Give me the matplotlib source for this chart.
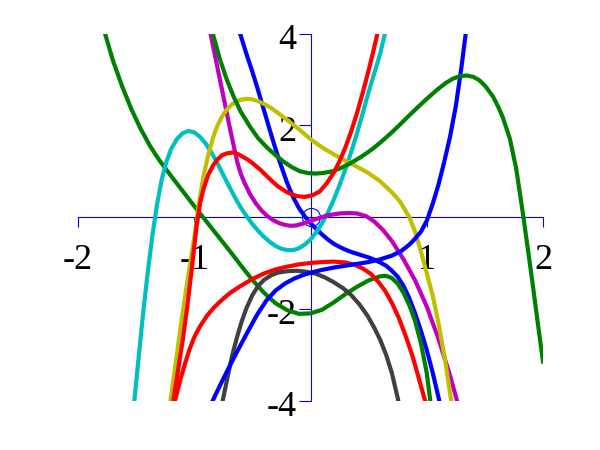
import matplotlib
matplotlib.use("Agg")
import matplotlib.pyplot as plt
from matplotlib.transforms import ScaledTranslation

# curves, (x, y) pairs
blue_a_x = [-0.605, -0.55, -0.5, -0.45, -0.4, -0.35, -0.3, -0.25, -0.2, -0.15, -0.1, -0.05, 0.0, 0.05, 0.1, 0.15, 0.2, 0.25, 0.3, 0.35, 0.4, 0.45, 0.5, 0.55, 0.6, 0.65, 0.7, 0.75, 0.8, 0.85, 0.9, 0.95, 1.0, 1.05, 1.1, 1.107]
blue_a_y = [4.0, 3.55, 3.17, 2.76, 2.33, 1.9, 1.48, 1.1, 0.74, 0.44, 0.2, 0.02, -0.13, -0.26, -0.38, -0.49, -0.58, -0.65, -0.71, -0.76, -0.8, -0.84, -0.88, -0.93, -0.99, -1.06, -1.17, -1.3, -1.5, -1.77, -2.1, -2.48, -2.9, -3.38, -3.92, -4.0]

green_a_x = [-1.767, -1.7, -1.62, -1.54, -1.46, -1.38, -1.3, -1.2, -1.1, -1.0, -0.9, -0.8, -0.7, -0.6, -0.5, -0.4, -0.3, -0.2, -0.1, 0.0, 0.1, 0.2, 0.3, 0.4, 0.5, 0.6, 0.65, 0.7, 0.75, 0.8, 0.85, 0.9, 0.95, 1.0, 1.03]
green_a_y = [4.0, 3.42, 2.85, 2.35, 1.92, 1.55, 1.24, 0.9, 0.57, 0.24, -0.08, -0.4, -0.72, -1.05, -1.37, -1.65, -1.88, -2.03, -2.11, -2.1, -2.02, -1.86, -1.68, -1.52, -1.38, -1.29, -1.28, -1.33, -1.45, -1.65, -1.92, -2.27, -2.75, -3.4, -4.0]

red_b_x = [-1.165, -1.12, -1.08, -1.04, -1.0, -0.95, -0.89, -0.83, -0.76, -0.69, -0.6, -0.5, -0.4, -0.3, -0.2, -0.1, 0.0, 0.1, 0.2, 0.3, 0.38, 0.45, 0.52, 0.58, 0.64, 0.7, 0.76, 0.82, 0.88, 0.93, 0.985]
red_b_y = [-4.0, -3.55, -3.2, -2.88, -2.62, -2.38, -2.15, -1.97, -1.8, -1.65, -1.5, -1.35, -1.23, -1.14, -1.08, -1.03, -1.0, -0.98, -0.97, -0.99, -1.04, -1.12, -1.24, -1.4, -1.6, -1.87, -2.2, -2.6, -3.05, -3.5, -4.0]

cyan_x = [-1.515, -1.48, -1.44, -1.4, -1.36, -1.32, -1.28, -1.24, -1.2, -1.15, -1.1, -1.05, -1.0, -0.95, -0.9, -0.85, -0.8, -0.75, -0.7, -0.65, -0.6, -0.55, -0.5, -0.45, -0.4, -0.35, -0.3, -0.25, -0.2, -0.15, -0.1, -0.05, 0.0, 0.05, 0.1, 0.15, 0.2, 0.25, 0.3, 0.35, 0.4, 0.45, 0.5, 0.55, 0.6, 0.64]
cyan_y = [-4.0, -3.1, -2.1, -1.2, -0.4, 0.28, 0.82, 1.2, 1.48, 1.7, 1.83, 1.88, 1.85, 1.75, 1.6, 1.4, 1.17, 0.92, 0.67, 0.43, 0.21, 0.02, -0.15, -0.3, -0.43, -0.54, -0.63, -0.69, -0.72, -0.72, -0.68, -0.6, -0.49, -0.33, -0.13, 0.1, 0.38, 0.7, 1.04, 1.42, 1.83, 2.27, 2.73, 3.15, 3.57, 4.0]

magenta_x = [-0.86, -0.81, -0.75, -0.69, -0.63, -0.6, -0.57, -0.52, -0.47, -0.42, -0.37, -0.32, -0.27, -0.22, -0.17, -0.12, -0.05, 0.05, 0.15, 0.25, 0.33, 0.4, 0.48, 0.55, 0.62, 0.7, 0.8, 0.9, 1.0, 1.1, 1.2, 1.26]
magenta_y = [4.0, 3.38, 2.64, 1.9, 1.2, 0.95, 0.76, 0.5, 0.3, 0.14, 0.02, -0.07, -0.13, -0.17, -0.19, -0.18, -0.13, -0.04, 0.04, 0.08, 0.09, 0.08, 0.02, -0.1, -0.27, -0.52, -0.92, -1.38, -1.95, -2.65, -3.45, -4.0]

yellow_x = [-1.205, -1.16, -1.12, -1.08, -1.04, -1.0, -0.976, -0.96, -0.92, -0.88, -0.84, -0.8, -0.76, -0.72, -0.68, -0.64, -0.6, -0.55, -0.5, -0.45, -0.4, -0.35, -0.3, -0.2, -0.1, 0.0, 0.1, 0.2, 0.3, 0.4, 0.5, 0.6, 0.7, 0.77, 0.85, 0.9, 0.95, 1.0, 1.05, 1.1, 1.15, 1.21]
yellow_y = [-4.0, -3.2, -2.45, -1.75, -1.08, -0.45, 0.0, 0.3, 0.9, 1.35, 1.72, 2.0, 2.2, 2.35, 2.45, 2.52, 2.56, 2.58, 2.57, 2.53, 2.47, 2.4, 2.31, 2.12, 1.92, 1.7, 1.52, 1.37, 1.23, 1.1, 0.96, 0.78, 0.54, 0.34, 0.0, -0.32, -0.75, -1.22, -1.7, -2.3, -3.0, -4.0]

gray_x = [-0.755, -0.71, -0.67, -0.63, -0.59, -0.55, -0.5, -0.45, -0.4, -0.34, -0.28, -0.2, -0.12, -0.04, 0.04, 0.12, 0.2, 0.28, 0.35, 0.42, 0.49, 0.55, 0.6, 0.65, 0.7, 0.755]
gray_y = [-4.0, -3.45, -2.98, -2.6, -2.26, -1.98, -1.7, -1.5, -1.37, -1.27, -1.21, -1.18, -1.17, -1.19, -1.23, -1.31, -1.42, -1.55, -1.7, -1.9, -2.15, -2.42, -2.68, -3.0, -3.4, -4.0]

blue_b_x = [-0.84, -0.78, -0.7, -0.62, -0.54, -0.46, -0.38, -0.3, -0.22, -0.14, -0.06, 0.02, 0.1, 0.2, 0.3, 0.4, 0.5, 0.6, 0.7, 0.78, 0.85, 0.9, 0.95, 1.0, 1.05, 1.1, 1.15, 1.2, 1.25, 1.3, 1.335]
blue_b_y = [-4.0, -3.68, -3.27, -2.88, -2.5, -2.13, -1.82, -1.6, -1.45, -1.34, -1.26, -1.2, -1.15, -1.1, -1.06, -1.02, -0.98, -0.92, -0.84, -0.74, -0.6, -0.47, -0.32, -0.08, 0.28, 0.7, 1.2, 1.75, 2.42, 3.3, 4.0]

green_b_x = [-0.84, -0.78, -0.72, -0.66, -0.6, -0.52, -0.45, -0.375, -0.3, -0.237, -0.16, -0.09, -0.02, 0.04, 0.1, 0.19, 0.26, 0.34, 0.42, 0.485, 0.55, 0.62, 0.7, 0.77, 0.85, 0.92, 1.0, 1.09, 1.16, 1.225, 1.28, 1.34, 1.4, 1.45, 1.5, 1.57, 1.62, 1.655, 1.715, 1.77, 1.826, 1.87, 1.91, 1.96, 2.0]
green_b_y = [4.0, 3.45, 3.0, 2.62, 2.3, 1.97, 1.72, 1.52, 1.35, 1.22, 1.09, 1.0, 0.96, 0.95, 0.96, 1.0, 1.07, 1.17, 1.29, 1.4, 1.52, 1.67, 1.85, 2.02, 2.22, 2.39, 2.58, 2.78, 2.92, 3.02, 3.07, 3.09, 3.06, 2.99, 2.87, 2.63, 2.38, 2.17, 1.71, 1.05, 0.1, -0.7, -1.44, -2.4, -3.15]

red_a_x = [-1.18, -1.14, -1.1, -1.06, -1.02, -0.98, -0.95, -0.92, -0.88, -0.84, -0.8, -0.76, -0.72, -0.67, -0.62, -0.55, -0.5, -0.43, -0.35, -0.28, -0.2, -0.12, -0.05, 0.02, 0.08, 0.14, 0.2, 0.25, 0.3, 0.35, 0.4, 0.45, 0.5, 0.55, 0.575]
red_a_y = [-4.0, -3.35, -2.7, -1.95, -1.1, -0.2, 0.3, 0.62, 0.92, 1.12, 1.26, 1.35, 1.39, 1.41, 1.37, 1.27, 1.18, 1.03, 0.83, 0.67, 0.54, 0.46, 0.44, 0.48, 0.56, 0.74, 0.97, 1.22, 1.52, 1.87, 2.27, 2.72, 3.2, 3.72, 4.0]

origin_x = [0.0]
origin_y = [0.0]

xticks = [-2, -1, 1, 2]
xticklabels = ["-2", "-1", "1", "2"]
yticks = [-4, -2, 2, 4]
yticklabels = ["-4", "-2", "2", "4"]

# old matlab colour order
C_BLUE = (0, 0, 1)
C_GREEN = (0, 0.5, 0)
C_RED = (1, 0, 0)
C_CYAN = (0, 0.75, 0.75)
C_MAGENTA = (0.75, 0, 0.75)
C_YELLOW = (0.75, 0.75, 0)
C_GRAY = (0.25, 0.25, 0.25)

curves = [
    (blue_a_x, blue_a_y, C_BLUE),
    (green_a_x, green_a_y, C_GREEN),
    (red_b_x, red_b_y, C_RED),
    (cyan_x, cyan_y, C_CYAN),
    (magenta_x, magenta_y, C_MAGENTA),
    (yellow_x, yellow_y, C_YELLOW),
    (gray_x, gray_y, C_GRAY),
    (blue_b_x, blue_b_y, C_BLUE),
    (green_b_x, green_b_y, C_GREEN),
    (red_a_x, red_a_y, C_RED),
]

plt.rcParams["font.family"] = ["Liberation Serif", "DejaVu Serif"]

fig = plt.figure(figsize=(6, 4.5), dpi=100)
ax = fig.add_axes([0.13, 0.11, 0.775, 0.815])

ax.plot(origin_x, origin_y, "o", ms=13, mfc="none", mec="blue", mew=0.8, zorder=2.7)
for xs, ys, c in curves:
    ax.plot(xs, ys, color=c, lw=3, solid_joinstyle="round", zorder=3)

ax.set_xlim(-2, 2)
ax.set_ylim(-4, 4)
for side in ("top", "right"):
    ax.spines[side].set_visible(False)
ax.spines["left"].set_position(("data", 0))
ax.spines["bottom"].set_position(("data", 0))
for side in ("left", "bottom"):
    ax.spines[side].set_color("blue")
    ax.spines[side].set_linewidth(0.8)

ax.set_xticks(xticks)
ax.set_xticklabels(xticklabels)
ax.set_yticks(yticks)
ax.set_yticklabels(yticklabels)
ax.tick_params(axis="x", direction="out", length=7, width=0.8, color="blue", pad=12, labelsize=26)
ax.tick_params(axis="y", direction="out", length=9, width=0.8, color="blue", pad=1, labelsize=26)
# matlab puts the y labels a touch below their ticks
shift = ScaledTranslation(0, -3 / 100, fig.dpi_scale_trans)
for lab in ax.get_yticklabels():
    lab.set_transform(lab.get_transform() + shift)
ax.patch.set_visible(False)

fig.savefig("out.png", dpi=100)
plt.close(fig)
